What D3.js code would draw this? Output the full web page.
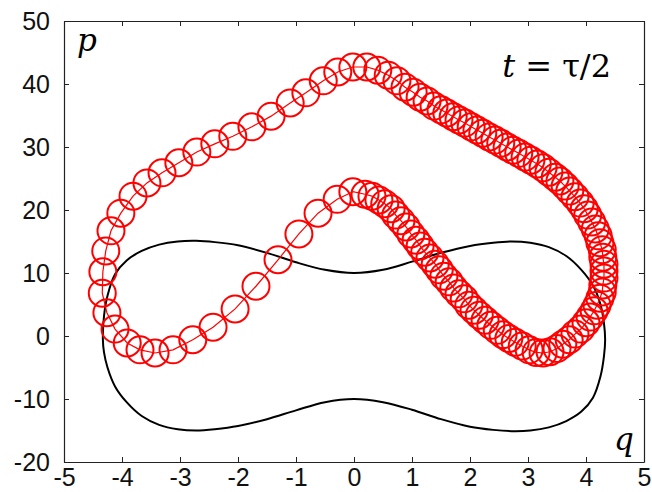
<!DOCTYPE html>
<html>
<head>
<meta charset="utf-8">
<script src="https://cdn.jsdelivr.net/npm/d3@7"></script>
<style>
  html, body { margin: 0; padding: 0; background: #fff; }
  svg { display: block; }
</style>
</head>
<body>
<svg id="chart" width="652" height="492"></svg>
<script>
// Phase-space trajectory samples (q, p) at t = tau/2, in time order (closed loop)
const trajQ = [
  -0.02, -0.29, -0.62, -0.95, -1.31, -1.69, -2.05, -2.43, -2.78, -3.12,
  -3.43, -3.69, -3.91, -4.12, -4.26, -4.34, -4.33, -4.28, -4.19, -4.02,
  -3.81, -3.57, -3.31, -3.02, -2.71, -2.40, -2.09, -1.76, -1.43, -1.10,
  -0.83, -0.53, -0.28, -0.02, 0.22,
  0.41, 0.59, 0.74, 0.88, 1.02, 1.14, 1.26, 1.38, 1.50, 1.60,
  1.71, 1.81, 1.91, 2.02, 2.12, 2.22, 2.33, 2.43, 2.53, 2.64,
  2.74, 2.84, 2.95, 3.05, 3.16, 3.26, 3.36, 3.47, 3.55, 3.64,
  3.72, 3.81, 3.90, 3.97, 4.03, 4.10, 4.16, 4.21, 4.24, 4.28,
  4.29, 4.31, 4.31, 4.31, 4.29, 4.28, 4.24, 4.19, 4.14, 4.07,
  4.00, 3.91, 3.81, 3.71, 3.60, 3.50, 3.38, 3.26, 3.14, 3.02,
  2.90, 2.78, 2.67, 2.57, 2.47, 2.36, 2.26, 2.16, 2.07, 1.98,
  1.90, 1.81, 1.72, 1.64, 1.55, 1.47, 1.40, 1.31, 1.22, 1.14,
  1.07, 0.98, 0.90, 0.81, 0.72, 0.64, 0.53, 0.43, 0.31, 0.19
];
const trajP = [
  22.9, 21.7, 19.5, 16.2, 12.1, 7.9, 4.3, 1.4, -0.6, -2.2,
  -2.7, -2.2, -1.1, 1.1, 3.7, 6.8, 10.2, 13.5, 16.7, 19.5,
  22.2, 24.3, 25.9, 27.5, 29.2, 30.5, 31.7, 33.2, 34.9, 37.0,
  38.6, 40.5, 41.9, 42.7, 42.7,
  42.2, 41.4, 40.5, 39.5, 38.7, 37.9, 37.3, 36.5, 35.9, 35.4,
  34.8, 34.3, 33.8, 33.2, 32.7, 32.2, 31.6, 31.1, 30.6, 30.0,
  29.5, 29.0, 28.4, 27.9, 27.3, 26.7, 26.0, 25.2, 24.6, 23.8,
  23.0, 22.1, 21.1, 20.2, 19.2, 18.1, 17.0, 15.9, 14.8, 13.7,
  12.5, 11.4, 10.3, 9.2, 8.1, 7.0, 6.0, 4.9, 4.0, 3.0,
  2.1, 1.1, 0.3, -0.6, -1.3, -2.0, -2.5, -2.7, -2.6, -2.2,
  -1.6, -1.0, -0.4, 0.2, 0.9, 1.7, 2.5, 3.3, 4.1, 4.9,
  5.9, 6.7, 7.6, 8.6, 9.5, 10.5, 11.4, 12.4, 13.3, 14.3,
  15.2, 16.2, 17.3, 18.3, 19.2, 20.2, 21.0, 21.6, 22.2, 22.5
];

// Energy contour (closed): upper branch left to right, then lower branch right to left
const contourQ = [
  -4.33, -4.31, -4.25, -4.12, -3.92, -3.66, -3.36, -3.04, -2.72, -2.40,
  -2.00, -1.50, -1.00, -0.50, 0.00, 0.50, 1.00, 1.50, 2.00, 2.40,
  2.72, 3.04, 3.36, 3.66, 3.92, 4.12, 4.25, 4.31, 4.33,
  4.31, 4.25, 4.12, 3.92, 3.66, 3.36, 3.04, 2.72, 2.40, 2.00,
  1.50, 1.00, 0.50, 0.00, -0.50, -1.00, -1.50, -2.00, -2.40, -2.72,
  -3.04, -3.36, -3.66, -3.92, -4.12, -4.25, -4.31
];
const contourP = [
  -0.5, 3.2, 6.4, 9.8, 12.0, 13.5, 14.5, 15.0, 15.1, 14.9,
  14.4, 13.2, 11.7, 10.5, 10.0, 10.5, 11.8, 13.2, 14.3, 14.8,
  15.0, 14.8, 14.1, 12.7, 10.5, 8.0, 5.0, 2.0, -0.6,
  -3.2, -6.4, -9.8, -12.0, -13.5, -14.5, -15.0, -15.1, -14.9, -14.4,
  -13.2, -11.7, -10.5, -10.0, -10.5, -11.8, -13.2, -14.3, -14.8, -15.0,
  -14.8, -14.1, -12.7, -10.5, -8.0, -5.0, -2.6
];

const xTicks = [-5, -4, -3, -2, -1, 0, 1, 2, 3, 4, 5];
const yTicks = [-20, -10, 0, 10, 20, 30, 40, 50];

const svg = d3.select("#chart");
const plotLeft = 64, plotRight = 644, plotTop = 21, plotBottom = 462;

const x = d3.scaleLinear().domain([-5, 5]).range([plotLeft, plotRight]);
const y = d3.scaleLinear().domain([-20, 50]).range([plotBottom, plotTop]);

const tickFont = "'Liberation Sans', Arial, sans-serif";
const plainNumber = d => String(d);

// Axes with inward ticks on all four sides
const axB = svg.append("g").attr("transform", `translate(0,${plotBottom})`)
  .call(d3.axisBottom(x).tickValues(xTicks).tickSizeInner(-5).tickSizeOuter(0).tickPadding(6).tickFormat(plainNumber));
const axT = svg.append("g").attr("transform", `translate(0,${plotTop})`)
  .call(d3.axisTop(x).tickValues(xTicks).tickSizeInner(-5).tickSizeOuter(0).tickFormat(""));
const axL = svg.append("g").attr("transform", `translate(${plotLeft},0)`)
  .call(d3.axisLeft(y).tickValues(yTicks).tickSizeInner(-5).tickSizeOuter(0).tickPadding(14).tickFormat(plainNumber));
const axR = svg.append("g").attr("transform", `translate(${plotRight},0)`)
  .call(d3.axisRight(y).tickValues(yTicks).tickSizeInner(-5).tickSizeOuter(0).tickFormat(""));

[axB, axT, axL, axR].forEach(g => {
  g.select(".domain").attr("stroke", "#222").attr("stroke-width", 1.2);
  g.selectAll(".tick line").attr("stroke", "#222").attr("stroke-width", 1);
  g.selectAll("text").attr("font-family", tickFont).attr("font-size", 25).attr("fill", "#111");
});
axB.selectAll("text").attr("dy", "0.72em");
axL.selectAll("text").attr("dy", "0.32em");

// Energy contour
const contour = contourQ.map((q, i) => [q, contourP[i]]);
svg.append("path")
  .datum(contour)
  .attr("d", d3.line().x(d => x(d[0])).y(d => y(d[1])).curve(d3.curveCatmullRomClosed.alpha(0.5)))
  .attr("fill", "none")
  .attr("stroke", "#000")
  .attr("stroke-width", 2);

// Trajectory: thin connecting line plus open circle markers
const traj = trajQ.map((q, i) => [q, trajP[i]]);
svg.append("path")
  .datum(traj)
  .attr("d", d3.line().x(d => x(d[0])).y(d => y(d[1])).curve(d3.curveLinearClosed))
  .attr("fill", "none")
  .attr("stroke", "#ff0000")
  .attr("stroke-width", 1.2);

svg.append("g").selectAll("circle")
  .data(traj)
  .join("circle")
  .attr("cx", d => x(d[0]))
  .attr("cy", d => y(d[1]))
  .attr("r", 13.5)
  .attr("fill", "none")
  .attr("stroke", "#ff0000")
  .attr("stroke-width", 2);

// Axis symbols and time label
const mathFont = "'DejaVu Serif', 'Liberation Serif', serif";
svg.append("text")
  .attr("x", 77).attr("y", 51)
  .attr("font-family", mathFont).attr("font-style", "italic").attr("font-size", 31)
  .attr("fill", "#000").text("p");
svg.append("text")
  .attr("x", 614).attr("y", 450)
  .attr("font-family", mathFont).attr("font-style", "italic").attr("font-size", 31)
  .attr("fill", "#000").text("q");

const tl = svg.append("text")
  .attr("x", 611).attr("y", 77)
  .attr("text-anchor", "end")
  .attr("font-family", mathFont).attr("font-size", 32).attr("fill", "#000");
tl.append("tspan").attr("font-style", "italic").text("t");
tl.append("tspan").text(" = τ/2");
</script>
</body>
</html>
